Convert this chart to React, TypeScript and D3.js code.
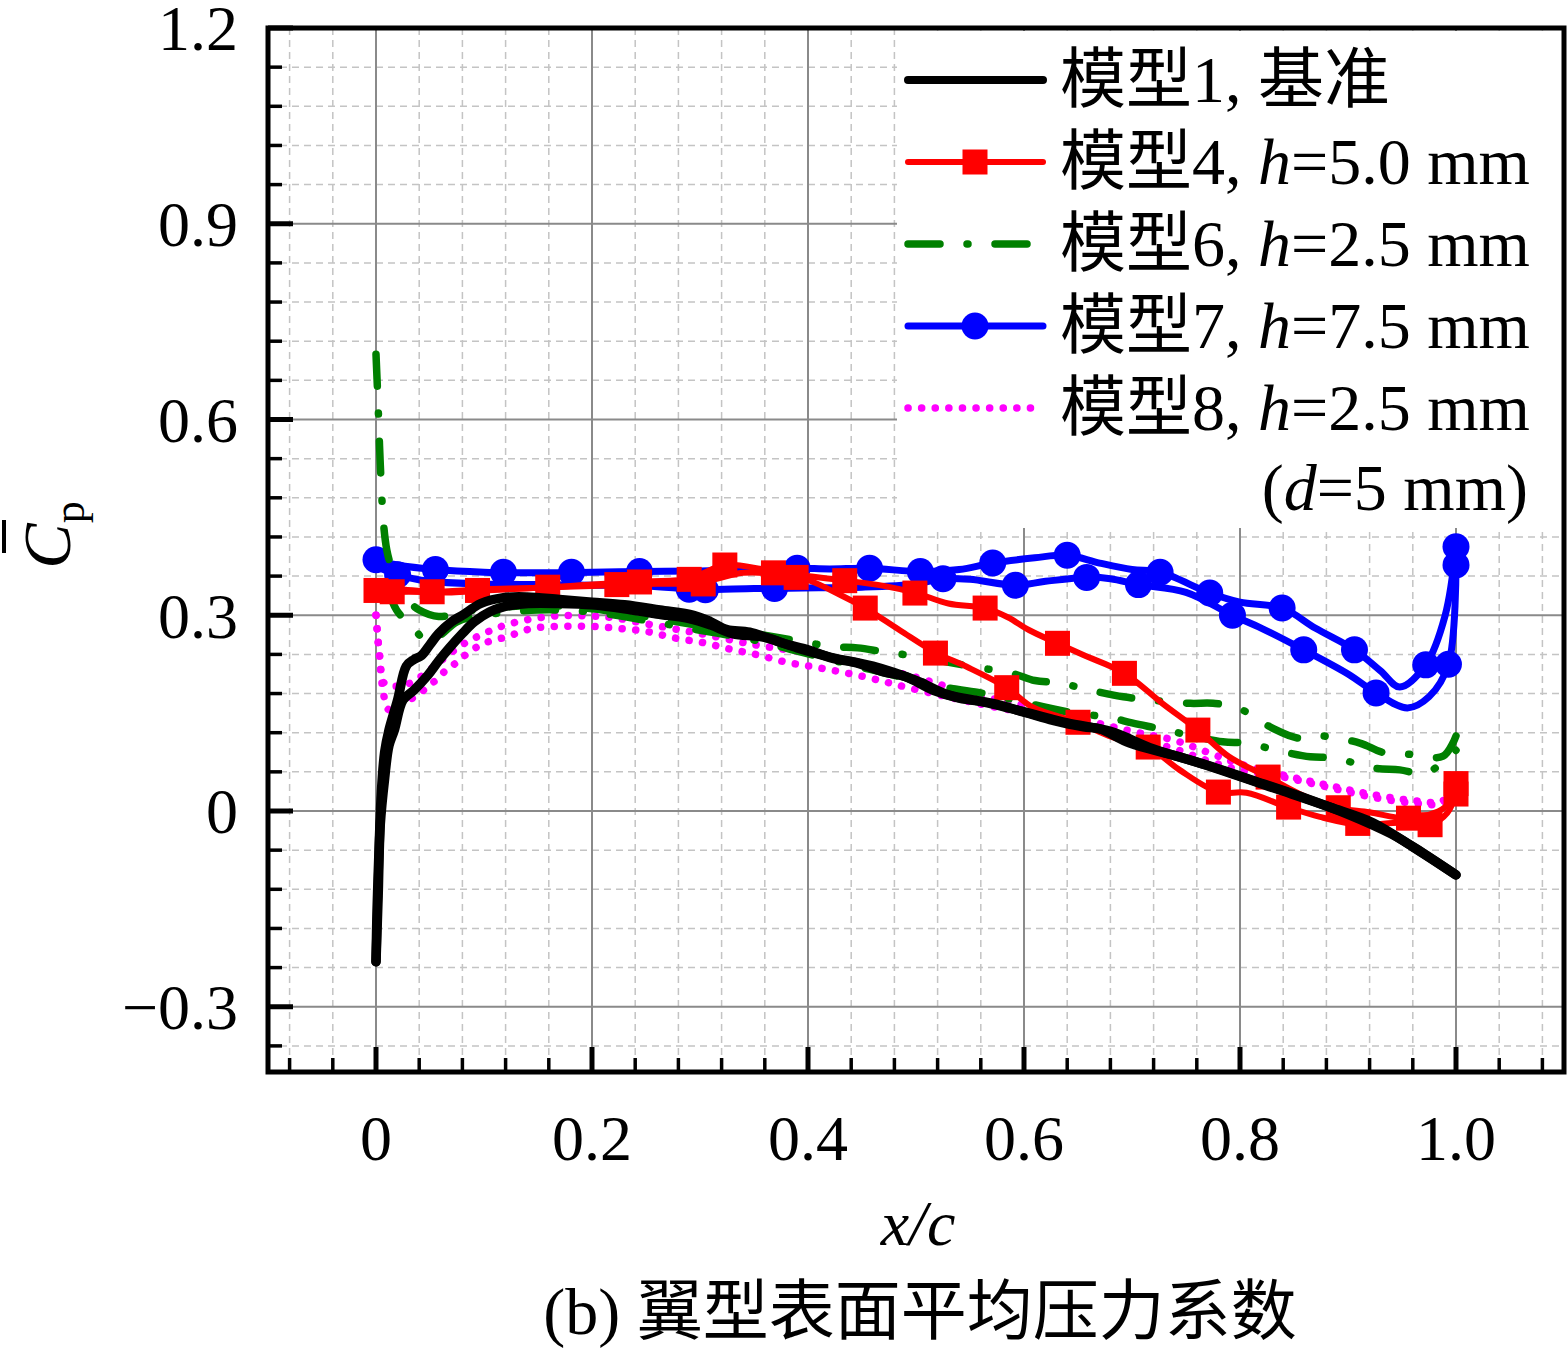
import React from 'react';
import * as d3 from 'd3';

type Pt = [number, number];

// axis ticks
const xMajor = [0, 0.2, 0.4, 0.6, 0.8, 1.0];
const xMajorLabels = ['0', '0.2', '0.4', '0.6', '0.8', '1.0'];
const yMajor = [-0.3, 0, 0.3, 0.6, 0.9, 1.2];
const yMajorLabels = ['\u22120.3', '0', '0.3', '0.6', '0.9', '1.2'];

// model 1 (baseline), two surfaces
const m1Upper: Pt[] = [[0,-0.231],[0.001,-0.15],[0.003,-0.05],[0.005,0.03],[0.008,0.09],[0.012,0.124],[0.02,0.17],[0.028,0.222],[0.035,0.232],[0.042,0.238],[0.05,0.255],[0.058,0.272],[0.07,0.29],[0.08,0.3],[0.097,0.318],[0.118,0.327],[0.14,0.328],[0.17,0.324],[0.2,0.32],[0.23,0.316],[0.263,0.308],[0.294,0.3],[0.31,0.29],[0.325,0.278],[0.346,0.274],[0.377,0.257],[0.4,0.247],[0.423,0.234],[0.445,0.227],[0.47,0.213],[0.49,0.206],[0.516,0.185],[0.54,0.173],[0.571,0.165],[0.593,0.155],[0.624,0.14],[0.655,0.129],[0.67,0.126],[0.698,0.104],[0.744,0.083],[0.791,0.058],[0.837,0.032],[0.883,0.006],[0.923,-0.018],[0.96,-0.055],[1.0,-0.098]];
const m1Lower: Pt[] = [[0,-0.231],[0.002,-0.13],[0.004,-0.02],[0.008,0.05],[0.012,0.1],[0.017,0.124],[0.025,0.17],[0.035,0.185],[0.048,0.208],[0.058,0.23],[0.068,0.25],[0.08,0.272],[0.091,0.29],[0.105,0.305],[0.118,0.313],[0.141,0.318],[0.17,0.318],[0.2,0.316],[0.23,0.31],[0.26,0.302],[0.29,0.295],[0.31,0.285],[0.33,0.272],[0.36,0.266],[0.39,0.25],[0.42,0.236],[0.46,0.222],[0.5,0.2],[0.53,0.178],[0.56,0.168],[0.6,0.152],[0.64,0.135],[0.68,0.122],[0.72,0.095],[0.77,0.07],[0.81,0.048],[0.86,0.02],[0.9,-0.005],[0.94,-0.035],[0.97,-0.065],[1.0,-0.098]];

// model 4, h = 5.0 mm
const m4Upper: Pt[] = [[0,0.338],[0.02,0.34],[0.05,0.336],[0.1,0.34],[0.15,0.342],[0.2,0.347],[0.25,0.352],[0.29,0.356],[0.323,0.377],[0.36,0.37],[0.39,0.362],[0.43,0.354],[0.47,0.345],[0.5,0.334],[0.53,0.318],[0.564,0.311],[0.585,0.297],[0.605,0.277],[0.631,0.257],[0.655,0.239],[0.693,0.211],[0.728,0.165],[0.761,0.124],[0.79,0.083],[0.826,0.052],[0.853,0.028],[0.886,0.006],[0.92,-0.002],[0.956,-0.011],[0.99,0.006],[1.0,0.04]];
const m4UpperMarks: Pt[] = [[0,0.338],[0.052,0.336],[0.159,0.343],[0.244,0.351],[0.29,0.355],[0.323,0.377],[0.368,0.365],[0.434,0.353],[0.499,0.334],[0.564,0.311],[0.631,0.257],[0.693,0.211],[0.761,0.124],[0.826,0.052],[0.891,0.005],[0.956,-0.011],[1.0,0.042]];
const m4Lower: Pt[] = [[0,0.335],[0.03,0.336],[0.07,0.335],[0.1,0.338],[0.15,0.342],[0.2,0.345],[0.25,0.348],[0.3,0.35],[0.34,0.365],[0.377,0.362],[0.4,0.354],[0.43,0.331],[0.453,0.311],[0.485,0.277],[0.519,0.242],[0.547,0.221],[0.584,0.189],[0.608,0.159],[0.649,0.136],[0.682,0.113],[0.715,0.098],[0.744,0.063],[0.78,0.029],[0.806,0.028],[0.844,0.006],[0.874,-0.009],[0.911,-0.021],[0.948,-0.018],[0.976,-0.021],[0.992,-0.003],[1.0,0.028]];
const m4LowerMarks: Pt[] = [[0.015,0.336],[0.094,0.338],[0.223,0.347],[0.303,0.348],[0.389,0.358],[0.453,0.311],[0.518,0.242],[0.584,0.189],[0.65,0.136],[0.715,0.098],[0.78,0.029],[0.845,0.006],[0.909,-0.019],[0.976,-0.021],[1.0,0.026]];

// model 6, h = 2.5 mm
const m6Upper: Pt[] = [[0,0.7],[0.002,0.62],[0.004,0.53],[0.007,0.44],[0.01,0.4],[0.013,0.38],[0.02,0.345],[0.03,0.322],[0.04,0.308],[0.058,0.298],[0.08,0.305],[0.1,0.31],[0.15,0.315],[0.2,0.31],[0.25,0.298],[0.3,0.284],[0.35,0.272],[0.386,0.262],[0.423,0.252],[0.446,0.25],[0.47,0.244],[0.504,0.236],[0.553,0.221],[0.589,0.211],[0.61,0.2],[0.633,0.196],[0.67,0.182],[0.692,0.175],[0.717,0.17],[0.754,0.165],[0.775,0.165],[0.798,0.158],[0.83,0.127],[0.853,0.112],[0.876,0.115],[0.911,0.104],[0.932,0.09],[0.956,0.087],[0.988,0.084],[1.0,0.115]];
const m6Lower: Pt[] = [[0.01,0.345],[0.019,0.308],[0.033,0.283],[0.048,0.26],[0.06,0.27],[0.075,0.29],[0.1,0.3],[0.15,0.308],[0.2,0.305],[0.25,0.292],[0.3,0.277],[0.35,0.262],[0.39,0.245],[0.45,0.22],[0.5,0.2],[0.529,0.189],[0.56,0.181],[0.578,0.175],[0.64,0.152],[0.68,0.143],[0.7,0.135],[0.723,0.127],[0.784,0.106],[0.805,0.104],[0.842,0.09],[0.865,0.083],[0.888,0.081],[0.923,0.066],[0.948,0.063],[0.972,0.058],[1.0,0.093]];

// model 7, h = 7.5 mm
const m7Upper: Pt[] = [[0,0.385],[0.02,0.377],[0.055,0.37],[0.1,0.366],[0.15,0.365],[0.2,0.366],[0.25,0.367],[0.3,0.368],[0.35,0.37],[0.39,0.372],[0.42,0.371],[0.457,0.372],[0.504,0.367],[0.54,0.37],[0.571,0.38],[0.61,0.388],[0.64,0.392],[0.67,0.38],[0.7,0.37],[0.726,0.366],[0.772,0.334],[0.8,0.32],[0.839,0.311],[0.87,0.28],[0.906,0.247],[0.93,0.215],[0.948,0.19],[0.972,0.224],[0.99,0.3],[1.0,0.405]];
const m7UpperMarks: Pt[] = [[0,0.385],[0.055,0.37],[0.118,0.366],[0.181,0.366],[0.244,0.367],[0.39,0.372],[0.457,0.372],[0.504,0.367],[0.571,0.38],[0.64,0.392],[0.726,0.366],[0.772,0.334],[0.839,0.311],[0.906,0.247],[0.972,0.224],[1.0,0.405]];
const m7Lower: Pt[] = [[0,0.375],[0.02,0.362],[0.05,0.352],[0.1,0.348],[0.15,0.347],[0.2,0.346],[0.25,0.345],[0.29,0.34],[0.305,0.339],[0.35,0.341],[0.369,0.341],[0.41,0.342],[0.45,0.343],[0.5,0.348],[0.525,0.356],[0.55,0.355],[0.592,0.346],[0.62,0.352],[0.658,0.358],[0.68,0.356],[0.706,0.347],[0.75,0.335],[0.793,0.3],[0.82,0.28],[0.859,0.247],[0.9,0.21],[0.926,0.181],[0.955,0.158],[0.975,0.175],[0.993,0.225],[1.0,0.377]];
const m7LowerMarks: Pt[] = [[0.02,0.362],[0.29,0.34],[0.305,0.339],[0.369,0.341],[0.525,0.356],[0.592,0.346],[0.658,0.358],[0.706,0.347],[0.793,0.3],[0.859,0.247],[0.926,0.181],[0.993,0.225],[1.0,0.377]];

// model 8, h = 2.5 mm (d = 5 mm)
const m8Upper: Pt[] = [[0,0.3],[0.002,0.26],[0.004,0.23],[0.006,0.2],[0.01,0.193],[0.018,0.191],[0.03,0.195],[0.045,0.21],[0.06,0.23],[0.08,0.255],[0.1,0.272],[0.12,0.285],[0.143,0.294],[0.168,0.299],[0.195,0.299],[0.221,0.296],[0.25,0.287],[0.28,0.278],[0.3,0.272],[0.35,0.255],[0.4,0.242],[0.45,0.225],[0.5,0.205],[0.55,0.18],[0.6,0.162],[0.65,0.142],[0.7,0.122],[0.74,0.108],[0.77,0.09],[0.8,0.072],[0.84,0.055],[0.88,0.04],[0.92,0.026],[0.96,0.016],[0.985,0.014],[1.0,0.03]];
const m8Lower: Pt[] = [[0,0.3],[0.003,0.24],[0.006,0.19],[0.009,0.165],[0.012,0.155],[0.02,0.16],[0.031,0.17],[0.044,0.185],[0.055,0.2],[0.065,0.216],[0.075,0.228],[0.085,0.242],[0.1,0.257],[0.121,0.267],[0.145,0.28],[0.172,0.283],[0.198,0.283],[0.224,0.28],[0.251,0.275],[0.277,0.265],[0.303,0.258],[0.328,0.248],[0.354,0.239],[0.38,0.228],[0.405,0.221],[0.431,0.213],[0.457,0.204],[0.483,0.193],[0.529,0.175],[0.574,0.159],[0.62,0.145],[0.664,0.13],[0.709,0.109],[0.74,0.095],[0.77,0.077],[0.8,0.063],[0.84,0.052],[0.88,0.037],[0.92,0.022],[0.96,0.012],[0.985,0.011],[1.0,0.025]];

// legend
const legendModels = ['模型', '模型', '模型', '模型', '模型'];
const legendNums = ['1', '4', '6', '7', '8'];
const legendH = ['', '5.0', '2.5', '7.5', '2.5'];

const W = 1567;
const H = 1358;
const plot = { left: 268, right: 1564, top: 28, bottom: 1072 };
const latin = "'Liberation Serif', 'Times New Roman', serif";
const cjk = "'Noto Sans CJK SC', sans-serif";

type Series = {
  branches: Pt[][];
  marks: Pt[][];
  color: string;
  width: number;
  dash?: string;
  marker?: 'square' | 'circle';
};

const series: Series[] = [
  { branches: [m8Upper, m8Lower], marks: [], color: '#FF00FF', width: 7.5, dash: '0.1 13.5' },
  { branches: [m7Upper, m7Lower], marks: [m7UpperMarks, m7LowerMarks], color: '#0000FF', width: 7, marker: 'circle' },
  { branches: [m6Upper, m6Lower], marks: [], color: '#008000', width: 7.5, dash: '32 27 1 27' },
  { branches: [m4Upper, m4Lower], marks: [m4UpperMarks, m4LowerMarks], color: '#FF0000', width: 6, marker: 'square' },
  { branches: [m1Upper, m1Lower], marks: [], color: '#000000', width: 9.5 },
];
const legendOrder = [4, 3, 2, 1, 0];

export default function App() {
  const x = d3.scaleLinear().domain([-0.1, 1.1]).range([plot.left, plot.right]);
  const y = d3.scaleLinear().domain([-0.4, 1.2]).range([plot.bottom, plot.top]);
  const line = d3.line<Pt>()
    .x(d => x(d[0]))
    .y(d => y(d[1]))
    .curve(d3.curveCatmullRom.alpha(0.5));

  const xMinor = d3.range(-2, 28).filter(i => i % 5 !== 0).map(i => i * 0.04);
  const yMinor = d3.range(-6, 20).filter(i => i % 5 !== 0).map(i => i * 0.06);

  const marker = (s: Series, p: Pt, k: string, cx = x(p[0]), cy = y(p[1])) =>
    s.marker === 'square'
      ? <rect key={k} x={cx - 12.5} y={cy - 12.5} width={25} height={25} fill={s.color} />
      : <circle key={k} cx={cx} cy={cy} r={13.5} fill={s.color} />;

  const rowY = (i: number) => 80 + i * 82;

  return (
    <div style={{ position: 'absolute', left: 0, top: 0 }}>
      <svg width={W} height={H} style={{ display: 'block', background: '#fff' }}>
        <defs>
          <clipPath id="plotClip">
            <rect x={plot.left} y={plot.top} width={plot.right - plot.left} height={plot.bottom - plot.top} />
          </clipPath>
        </defs>

        {/* grid */}
        <g>
          {xMinor.map((v, i) => (
            <line key={'xm' + i} x1={x(v)} x2={x(v)} y1={plot.top} y2={plot.bottom}
              stroke="#c4c4c4" strokeWidth={1.5} strokeDasharray="7 5" />
          ))}
          {yMinor.map((v, i) => (
            <line key={'ym' + i} x1={plot.left} x2={plot.right} y1={y(v)} y2={y(v)}
              stroke="#c4c4c4" strokeWidth={1.5} strokeDasharray="7 5" />
          ))}
          {xMajor.map((v, i) => (
            <line key={'xM' + i} x1={x(v)} x2={x(v)} y1={plot.top} y2={plot.bottom} stroke="#8a8a8a" strokeWidth={2} />
          ))}
          {yMajor.filter(v => v < 1.2).map((v, i) => (
            <line key={'yM' + i} x1={plot.left} x2={plot.right} y1={y(v)} y2={y(v)} stroke="#8a8a8a" strokeWidth={2} />
          ))}
        </g>

        {/* legend background */}
        <rect x={897} y={31} width={plot.right - 897} height={497} fill="#fff" />

        {/* data */}
        <g clipPath="url(#plotClip)">
          {series.map((s, si) => (
            <g key={'s' + si}>
              {s.branches.map((b, bi) => (
                <path key={bi} d={line(b) || ''} fill="none" stroke={s.color} strokeWidth={s.width}
                  strokeDasharray={s.dash} strokeLinecap="round" strokeLinejoin="round" />
              ))}
              {s.marks.map((ms, mi) => ms.map((p, pi) => marker(s, p, `${mi}-${pi}`)))}
            </g>
          ))}
        </g>

        {/* frame and ticks */}
        <rect x={plot.left} y={plot.top} width={plot.right - plot.left} height={plot.bottom - plot.top}
          fill="none" stroke="#000" strokeWidth={5} />
        {xMinor.map((v, i) => (
          <line key={'xt' + i} x1={x(v)} x2={x(v)} y1={plot.bottom} y2={plot.bottom - 14} stroke="#000" strokeWidth={3.5} />
        ))}
        {xMajor.map((v, i) => (
          <line key={'xT' + i} x1={x(v)} x2={x(v)} y1={plot.bottom} y2={plot.bottom - 25} stroke="#000" strokeWidth={5} />
        ))}
        {yMinor.map((v, i) => (
          <line key={'yt' + i} x1={plot.left} x2={plot.left + 14} y1={y(v)} y2={y(v)} stroke="#000" strokeWidth={3.5} />
        ))}
        {yMajor.map((v, i) => (
          <line key={'yT' + i} x1={plot.left} x2={plot.left + 25} y1={y(v)} y2={y(v)} stroke="#000" strokeWidth={5} />
        ))}

        {/* tick labels */}
        <g fontFamily={latin} fontSize={64} fill="#000">
          {xMajor.map((v, i) => (
            <text key={'xl' + i} x={x(v)} y={1160} textAnchor="middle">{xMajorLabels[i]}</text>
          ))}
          {yMajor.map((v, i) => (
            <text key={'yl' + i} x={238} y={y(v)} dy="0.35em" textAnchor="end">{yMajorLabels[i]}</text>
          ))}
        </g>

        {/* axis titles */}
        <text x={918} y={1245} textAnchor="middle" fontFamily={latin} fontSize={64} fontStyle="italic">x/c</text>
        <g transform="translate(70,535) rotate(-90)" fontFamily={latin}>
          <text x={0} y={0} textAnchor="middle" fontSize={68}>
            <tspan fontStyle="italic">C</tspan>
            <tspan fontSize={44} dy={14}>p</tspan>
          </text>
        </g>
        <line x1={4} x2={4} y1={520} y2={553} stroke="#000" strokeWidth={4} />
        <text x={920} y={1334} textAnchor="middle" fontSize={66}>
          <tspan fontFamily={latin}>(b) </tspan>
          <tspan fontFamily={cjk}>翼型表面平均压力系数</tspan>
        </text>

        {/* legend */}
        <g fontFamily={latin} fontSize={66}>
          {legendOrder.map((si, i) => {
            const s = series[si];
            const ry = rowY(i);
            return (
              <g key={'lg' + i}>
                <line x1={908} x2={1043} y1={ry} y2={ry} stroke={s.color} strokeWidth={Math.min(s.width, 8)}
                  strokeDasharray={s.dash} strokeLinecap="round" />
                {s.marker ? marker(s, [0, 0], 'lm' + i, 975, ry) : null}
                <text x={1060} y={ry + 22}>
                  <tspan fontFamily={cjk}>{legendModels[i]}</tspan>
                  <tspan>{legendNums[i]}, </tspan>
                  {legendH[i] === '' ? (
                    <tspan fontFamily={cjk}>基准</tspan>
                  ) : (
                    <>
                      <tspan fontStyle="italic">h</tspan>
                      <tspan>={legendH[i]} mm</tspan>
                    </>
                  )}
                </text>
              </g>
            );
          })}
          <text x={1528} y={510} textAnchor="end">
            <tspan>(</tspan>
            <tspan fontStyle="italic">d</tspan>
            <tspan>=5 mm)</tspan>
          </text>
        </g>
      </svg>
    </div>
  );
}
